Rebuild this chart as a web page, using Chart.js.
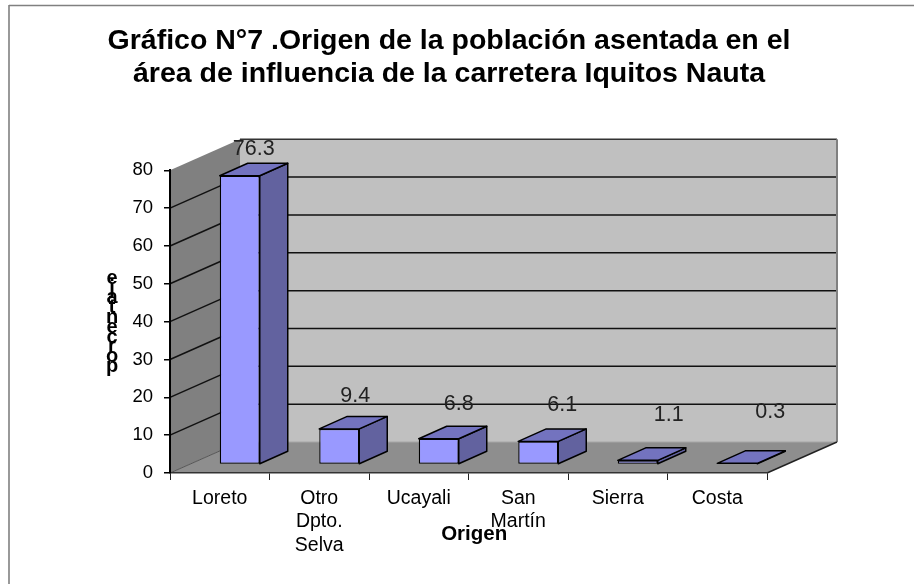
<!DOCTYPE html>
<html lang="es">
<head>
<meta charset="utf-8">
<title>Gráfico N°7</title>
<script src="https://cdn.jsdelivr.net/npm/chart.js@4"></script>
<style>html,body{margin:0;padding:0;background:#fff}canvas{display:block}</style>
</head>
<body>
<canvas id="c" width="914" height="584"></canvas>
<script>
const titleLines = ['Gráfico N°7 .Origen de la población asentada en el', 'área de influencia de la carretera Iquitos Nauta'];
const categories = ['Loreto', ['Otro', 'Dpto.', 'Selva'], 'Ucayali', ['San', 'Martín'], 'Sierra', 'Costa'];
const values = [76.3, 9.4, 6.8, 6.1, 1.1, 0.3];
const valueLabels = ['76.3', '9.4', '6.8', '6.1', '1.1', '0.3'];
const yAxisName = 'porcentaje';
const xAxisName = 'Origen';

const FONT = '"Liberation Sans", Arial, sans-serif';
// Depth of the 3D box and of the bars inside it, in pixels
const WALL = { dx: 70, dy: -31 };
const BAR_SHIFT = { dx: 20, dy: -8.5 };
const BAR_DEPTH = { dx: 28, dy: -12.5 };
// Where Excel placed each value label, relative to the bar's front-top-centre
const labelNudge = [[14, -27], [16, -33], [20, -34.5], [24, -36], [31, -45], [33, -51]];

function poly(ctx, pts, fill, stroke, lw) {
  ctx.beginPath();
  pts.forEach((p, i) => i ? ctx.lineTo(p[0], p[1]) : ctx.moveTo(p[0], p[1]));
  ctx.closePath();
  if (fill) { ctx.fillStyle = fill; ctx.fill(); }
  if (stroke) { ctx.strokeStyle = stroke; ctx.lineWidth = lw; ctx.stroke(); }
}
function seg(ctx, x1, y1, x2, y2, color, lw) {
  ctx.beginPath(); ctx.moveTo(x1, y1); ctx.lineTo(x2, y2);
  ctx.strokeStyle = color; ctx.lineWidth = lw; ctx.stroke();
}

const box3d = {
  id: 'box3d',
  afterLayout(chart) {
    chart.titleBlock.left = 0;
    chart.titleBlock.right = 898;
  },
  beforeDraw(chart) {
    const ctx = chart.ctx, sx = chart.scales.x, sy = chart.scales.y;
    const x0 = sx.left, x1 = sx.right, y0 = sy.getPixelForValue(0), yT = sy.getPixelForValue(sy.max);
    const { dx, dy } = WALL;
    ctx.save();
    // page frame (top and left only)
    seg(ctx, 9, 5.5, 914, 5.5, '#808080', 1.6);
    seg(ctx, 9, 5, 9, 584, '#808080', 1.6);
    // walls
    poly(ctx, [[x0 + dx, yT + dy], [x1 + dx, yT + dy], [x1 + dx, y0 + dy], [x0 + dx, y0 + dy]], '#c0c0c0');
    poly(ctx, [[x0, yT], [x0 + dx, yT + dy], [x0 + dx, y0 + dy], [x0, y0]], '#808080');
    poly(ctx, [[x0, y0], [x1, y0], [x1 + dx, y0 + dy], [x0 + dx, y0 + dy]], '#8e8e8e');
    // gridlines from the value axis
    sy.ticks.forEach(t => {
      const y = sy.getPixelForValue(t.value);
      if (t.value === 0) return;
      if (t.value === sy.max) return;
      seg(ctx, x0, y, x0 + dx, y + dy, '#111', 1.5);
      seg(ctx, x0 + dx, y + dy, x1 + dx, y + dy, '#111', 1.5);
    });
    seg(ctx, x0 + dx, yT + dy, x1 + dx, yT + dy, '#333', 1.5);
    seg(ctx, x1 + dx, yT + dy, x1 + dx, y0 + dy, '#808080', 2);
    seg(ctx, x0 + dx, y0 + dy, x1 + dx, y0 + dy, '#a6a6a6', 1);
    seg(ctx, x0, y0, x0 + dx, y0 + dy, '#555', 1);
    seg(ctx, x1, y0, x1 + dx, y0 + dy, '#222', 1.4);
    ctx.restore();
  },
  beforeDatasetDraw(chart, args) {
    const ctx = chart.ctx, d = BAR_DEPTH;
    ctx.save();
    ctx.translate(BAR_SHIFT.dx, BAR_SHIFT.dy);
    ctx.lineJoin = 'round';
    args.meta.data.forEach(b => {
      const l = b.x - b.width / 2, r = b.x + b.width / 2, t = b.y, bt = b.base;
      poly(ctx, [[r, bt], [r + d.dx, bt + d.dy], [r + d.dx, t + d.dy], [r, t]], '#62629f', '#000', 1.5);
      poly(ctx, [[l, t], [l + d.dx, t + d.dy], [r + d.dx, t + d.dy], [r, t]], '#7373bf', '#000', 1.5);
    });
  },
  afterDatasetDraw(chart) {
    chart.ctx.restore();
  },
  afterDatasetsDraw(chart) {
    const ctx = chart.ctx, meta = chart.getDatasetMeta(0);
    ctx.save();
    ctx.font = '21.5px ' + FONT;
    ctx.fillStyle = '#222';
    ctx.textAlign = 'center';
    ctx.textBaseline = 'middle';
    meta.data.forEach((b, i) => {
      ctx.fillText(valueLabels[i], b.x + BAR_SHIFT.dx + labelNudge[i][0], b.y + BAR_SHIFT.dy + labelNudge[i][1]);
    });
    // stacked value-axis name, reading bottom to top with upright letters
    ctx.font = 'bold 20px ' + FONT;
    ctx.fillStyle = '#000';
    ctx.textBaseline = 'alphabetic';
    yAxisName.split('').forEach((ch, i) => ctx.fillText(ch, 112, 372 - i * 9.8));
    ctx.restore();
  }
};

new Chart(document.getElementById('c'), {
  type: 'bar',
  data: {
    labels: categories,
    datasets: [{
      data: values,
      backgroundColor: '#9999ff',
      borderColor: '#000',
      borderWidth: 1.3,
      borderSkipped: false,
      barPercentage: 0.402,
      categoryPercentage: 1,
      clip: false
    }]
  },
  plugins: [box3d],
  options: {
    responsive: false,
    animation: false,
    layout: { padding: { left: 0, right: 147, top: 0, bottom: 0 } },
    plugins: {
      legend: { display: false },
      tooltip: { enabled: false },
      title: {
        display: true,
        text: titleLines,
        color: '#000',
        font: { family: FONT, size: 28.5, weight: 'bold', lineHeight: 1.18 },
        padding: { top: 24, bottom: 79 }
      }
    },
    scales: {
      x: {
        afterFit(s) { s.height = 111; },
        grid: { drawOnChartArea: false, drawTicks: true, tickLength: 7, tickColor: '#222', lineWidth: 1 },
        border: { color: '#333', width: 1.4 },
        ticks: {
          autoSkip: false, maxRotation: 0, minRotation: 0, padding: 7, color: '#000',
          font: { family: FONT, size: 19.5, lineHeight: 1.195 }
        },
        title: {
          display: true, text: '\u00A0\u00A0' + xAxisName, color: '#000',
          font: { family: FONT, size: 20.5, weight: 'bold', lineHeight: 1.2 },
          padding: { top: 0, bottom: 37 }
        }
      },
      y: {
        min: 0, max: 80,
        afterFit(s) { s.width = 170; },
        grid: { drawOnChartArea: false, drawTicks: true, tickLength: 6, tickColor: '#000', lineWidth: 1.5 },
        border: { color: '#000', width: 2 },
        ticks: {
          stepSize: 10, padding: 11, color: '#000',
          font: { family: FONT, size: 18.5 }
        }
      }
    }
  }
});
</script>
</body>
</html>
